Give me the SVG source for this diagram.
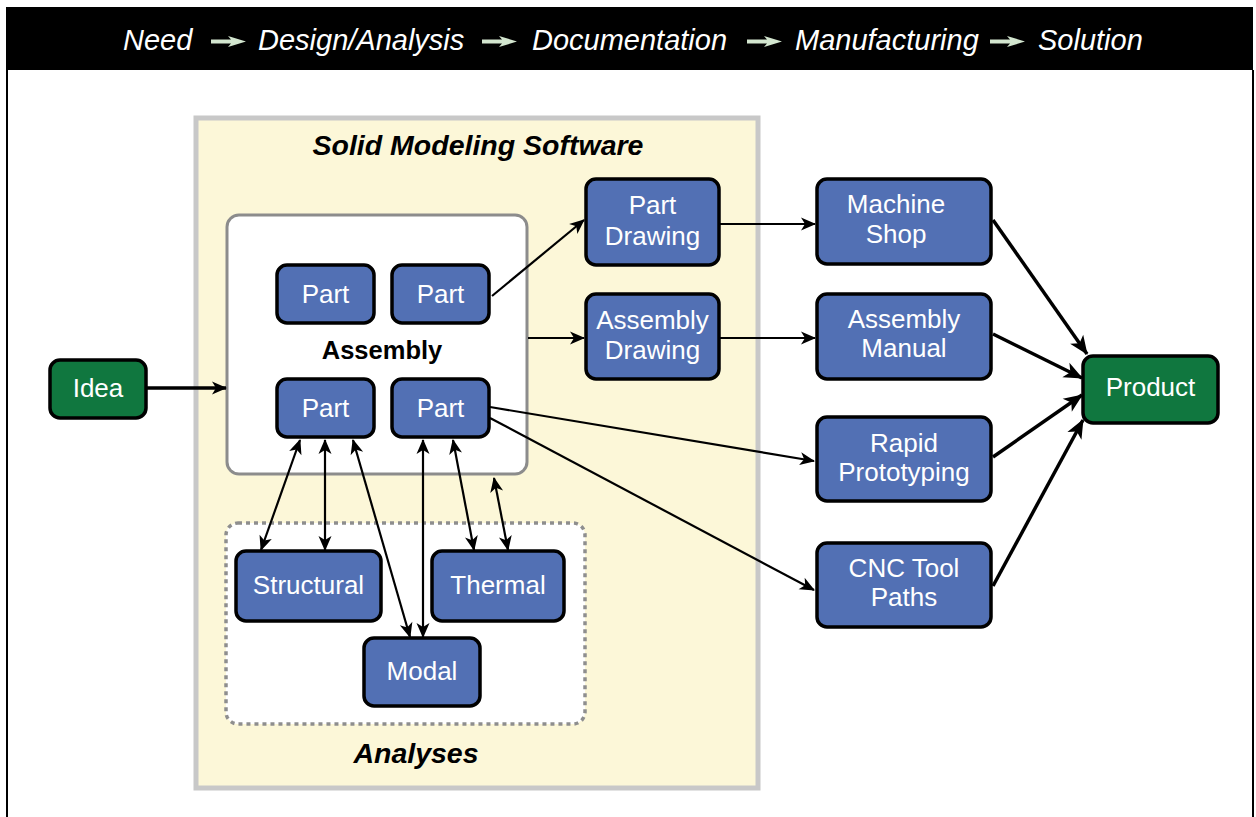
<svg xmlns="http://www.w3.org/2000/svg" width="1256" height="817" viewBox="0 0 1256 817">
<defs>
<style>
.node{fill:#5270b4;stroke:#000;stroke-width:3.5}
.green{fill:#10773f;stroke:#000;stroke-width:3.5}
.nt{font-family:"Liberation Sans",Arial,sans-serif;font-size:26px;fill:#fff;text-anchor:middle}
.hd{font-family:"Liberation Sans",Arial,sans-serif;font-size:29px;fill:#fff;font-style:italic}
.lbl{font-family:"Liberation Sans",Arial,sans-serif;font-weight:bold;fill:#000;text-anchor:middle}
.thin{stroke:#000;stroke-width:2.2;fill:none}
.thick{stroke:#000;stroke-width:3.5;fill:none}
.harrow{fill:#d3e6cf}
</style>
<marker id="ah" viewBox="-16 -8 18 16" refX="0" refY="0" markerWidth="18" markerHeight="16" markerUnits="userSpaceOnUse" orient="auto-start-reverse">
<path d="M1,0 L-14,-6.5 L-10,0 L-14,6.5 Z" fill="#000"/>
</marker>
<marker id="ahb" viewBox="-20 -10 22 20" refX="0" refY="0" markerWidth="22" markerHeight="20" markerUnits="userSpaceOnUse" orient="auto">
<path d="M1,0 L-18,-8 L-13,0 L-18,8 Z" fill="#000"/>
</marker>
</defs>
<rect width="1256" height="817" fill="#fff"/>
<g id="frame">
<rect x="6" y="7" width="1247" height="63" fill="#000"/>
<line x1="7" y1="70" x2="7" y2="817" stroke="#000" stroke-width="2"/>
<line x1="1253" y1="70" x2="1253" y2="817" stroke="#000" stroke-width="2"/>
</g>
<g id="header">
<text class="hd" x="123" y="50">Need</text>
<path class="harrow" d="M211,39.5 L231,39.5 L228,36 L246,41.5 L228,47 L231,43.5 L211,43.5 Z"/>
<text class="hd" x="258" y="50">Design/Analysis</text>
<path class="harrow" d="M482,39.5 L502,39.5 L499,36 L517,41.5 L499,47 L502,43.5 L482,43.5 Z"/>
<text class="hd" x="532" y="50">Documentation</text>
<path class="harrow" d="M747,39.5 L767,39.5 L764,36 L782,41.5 L764,47 L767,43.5 L747,43.5 Z"/>
<text class="hd" x="795" y="50">Manufacturing</text>
<path class="harrow" d="M990,39.5 L1010,39.5 L1007,36 L1025,41.5 L1007,47 L1010,43.5 L990,43.5 Z"/>
<text class="hd" x="1038" y="50">Solution</text>
</g>
<g id="solid-modeling">
<rect x="196" y="118" width="562" height="670" fill="#fcf7d8" stroke="#c8c8c8" stroke-width="5"/>
<text class="lbl" x="478" y="155" font-size="28.5" font-style="italic">Solid Modeling Software</text>
</g>
<g id="assembly">
<rect x="227" y="215" width="300" height="259" rx="12" fill="#fff" stroke="#8c8c8c" stroke-width="3"/>
<text class="lbl" x="382" y="359" font-size="25.5">Assembly</text>
</g>
<g id="analyses">
<rect x="226" y="523" width="359" height="201" rx="12" fill="#fff" stroke="#8e8e8e" stroke-width="3.5" stroke-dasharray="4,4"/>
<text class="lbl" x="416" y="763" font-size="28.5" font-style="italic">Analyses</text>
</g>
<g id="connectors">
<line class="thick" x1="146" y1="388" x2="226" y2="388" marker-end="url(#ah)"/>
<line class="thin" x1="492" y1="296" x2="584" y2="220" marker-end="url(#ah)"/>
<line class="thin" x1="528" y1="338" x2="584" y2="338" marker-end="url(#ah)"/>
<line class="thin" x1="490" y1="407" x2="814" y2="461" marker-end="url(#ah)"/>
<line class="thin" x1="490" y1="418" x2="814" y2="590" marker-end="url(#ah)"/>
<line class="thin" x1="719" y1="224" x2="815" y2="224" marker-end="url(#ah)"/>
<line class="thin" x1="719" y1="338" x2="815" y2="338" marker-end="url(#ah)"/>
<line class="thick" x1="993" y1="220" x2="1087" y2="354" marker-end="url(#ahb)"/>
<line class="thick" x1="993" y1="334" x2="1082" y2="378" marker-end="url(#ahb)"/>
<line class="thick" x1="993" y1="457" x2="1082" y2="395" marker-end="url(#ahb)"/>
<line class="thick" x1="993" y1="586" x2="1083" y2="420" marker-end="url(#ahb)"/>
<line class="thin" x1="300" y1="440" x2="261" y2="550" marker-start="url(#ah)" marker-end="url(#ah)"/>
<line class="thin" x1="325" y1="440" x2="325" y2="550" marker-start="url(#ah)" marker-end="url(#ah)"/>
<line class="thin" x1="353" y1="440" x2="410" y2="637" marker-start="url(#ah)" marker-end="url(#ah)"/>
<line class="thin" x1="423" y1="440" x2="423" y2="637" marker-start="url(#ah)" marker-end="url(#ah)"/>
<line class="thin" x1="453" y1="440" x2="474" y2="550" marker-start="url(#ah)" marker-end="url(#ah)"/>
<line class="thin" x1="494" y1="478" x2="508" y2="550" marker-start="url(#ah)" marker-end="url(#ah)"/>
</g>
<g id="idea"><rect class="green" x="50" y="360" width="96" height="58" rx="10"/><text class="nt" x="98" y="397">Idea</text></g>
<g id="part1"><rect class="node" x="277" y="265" width="97" height="58" rx="10"/><text class="nt" x="325.5" y="303">Part</text></g>
<g id="part2"><rect class="node" x="392" y="265" width="97" height="58" rx="10"/><text class="nt" x="440.5" y="303">Part</text></g>
<g id="part3"><rect class="node" x="277" y="379" width="97" height="58" rx="10"/><text class="nt" x="325.5" y="417">Part</text></g>
<g id="part4"><rect class="node" x="392" y="379" width="97" height="58" rx="10"/><text class="nt" x="440.5" y="417">Part</text></g>
<g id="structural"><rect class="node" x="236" y="551" width="145" height="70" rx="10"/><text class="nt" x="308.5" y="594">Structural</text></g>
<g id="thermal"><rect class="node" x="432" y="551" width="132" height="70" rx="10"/><text class="nt" x="498" y="594">Thermal</text></g>
<g id="modal"><rect class="node" x="364" y="638" width="116" height="68" rx="10"/><text class="nt" x="422" y="680">Modal</text></g>
<g id="part-drawing"><rect class="node" x="586" y="179" width="133" height="86" rx="10"/><text class="nt" x="652.5" y="214">Part</text><text class="nt" x="652.5" y="245">Drawing</text></g>
<g id="assembly-drawing"><rect class="node" x="586" y="294" width="133" height="85" rx="10"/><text class="nt" x="652.5" y="329">Assembly</text><text class="nt" x="652.5" y="359">Drawing</text></g>
<g id="machine-shop"><rect class="node" x="817" y="179" width="174" height="85" rx="10"/><text class="nt" x="896" y="213">Machine</text><text class="nt" x="896" y="243">Shop</text></g>
<g id="assembly-manual"><rect class="node" x="817" y="294" width="174" height="85" rx="10"/><text class="nt" x="904" y="328">Assembly</text><text class="nt" x="904" y="357">Manual</text></g>
<g id="rapid-prototyping"><rect class="node" x="817" y="417" width="174" height="84" rx="10"/><text class="nt" x="904" y="452">Rapid</text><text class="nt" x="904" y="481">Prototyping</text></g>
<g id="cnc-tool-paths"><rect class="node" x="817" y="543" width="174" height="84" rx="10"/><text class="nt" x="904" y="577">CNC Tool</text><text class="nt" x="904" y="606">Paths</text></g>
<g id="product"><rect class="green" x="1083" y="356" width="135" height="67" rx="10"/><text class="nt" x="1150.5" y="396">Product</text></g>
</svg>
